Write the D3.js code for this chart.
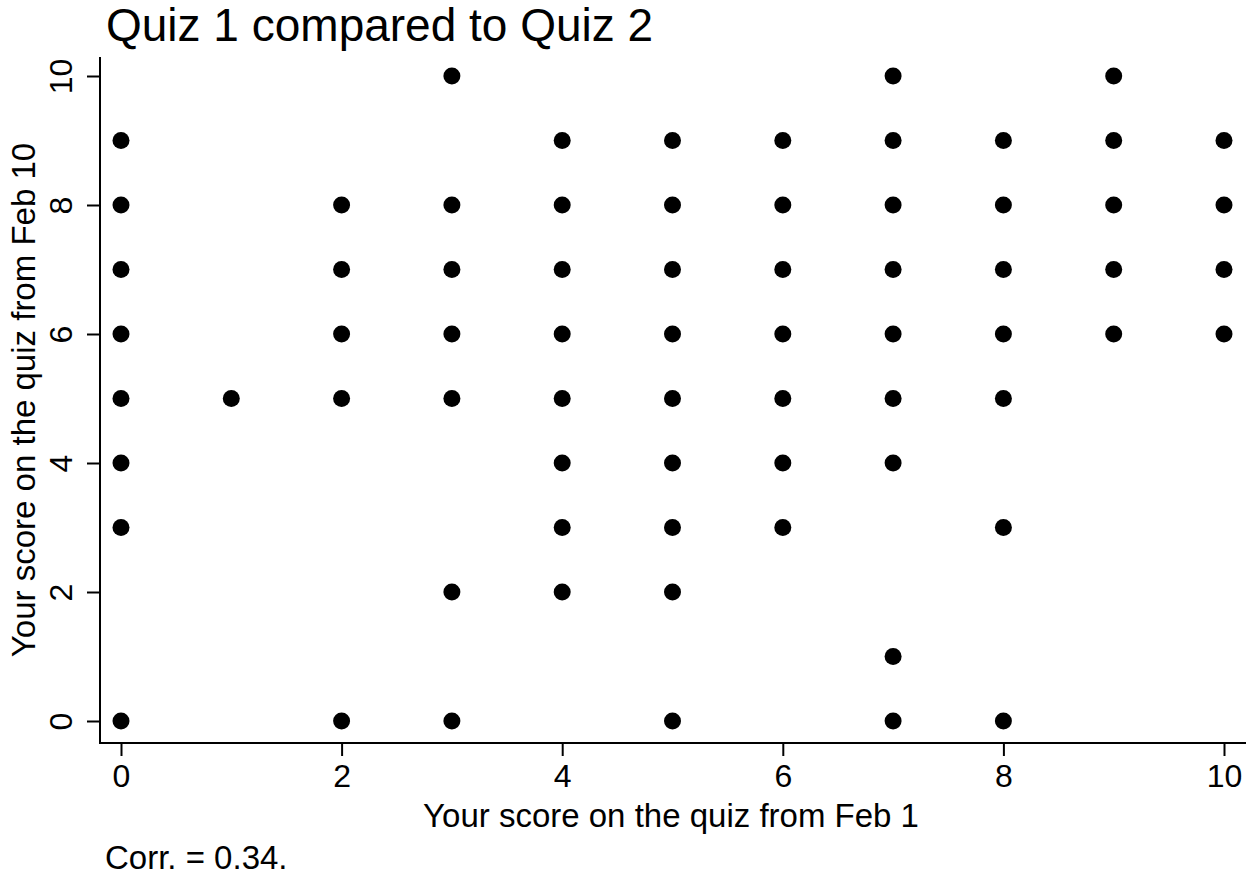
<!DOCTYPE html>
<html><head><meta charset="utf-8">
<script src="https://cdn.jsdelivr.net/npm/d3@7"></script>
<style>
html,body{margin:0;padding:0;background:#fff;}
svg{display:block;font-family:"Liberation Sans",Arial,sans-serif;}
</style></head>
<body>
<svg id="chart" width="1249" height="875"></svg>
<script>
const titleText = "Quiz 1 compared to Quiz 2";
const xTitle = "Your score on the quiz from Feb 1";
const yTitle = "Your score on the quiz from Feb 10";
const noteText = "Corr. = 0.34.";
const xTicks = [0, 2, 4, 6, 8, 10];
const yTicks = [0, 2, 4, 6, 8, 10];
const quiz1 = [0,0,0,0,0,0,0,0, 1, 2,2,2,2,2, 3,3,3,3,3,3,3, 4,4,4,4,4,4,4,4, 5,5,5,5,5,5,5,5,5, 6,6,6,6,6,6,6, 7,7,7,7,7,7,7,7,7, 8,8,8,8,8,8,8, 9,9,9,9,9, 10,10,10,10];
const quiz2 = [9,8,7,6,5,4,3,0, 5, 8,7,6,5,0, 10,8,7,6,5,2,0, 9,8,7,6,5,4,3,2, 9,8,7,6,5,4,3,2,0, 9,8,7,6,5,4,3, 10,9,8,7,6,5,4,1,0, 9,8,7,6,5,3,0, 10,9,8,7,6, 9,8,7,6];

const svg = d3.select("#chart");
const x = d3.scaleLinear().domain([0, 10]).range([121, 1224]);
const y = d3.scaleLinear().domain([0, 10]).range([721, 76]);
const plotLeft = 100, plotRight = 1246, plotTop = 57, plotBottom = 743;

// x axis
const xAxis = d3.axisBottom(x).tickValues(xTicks).tickSize(13).tickPadding(8).tickFormat(d3.format("d"));
const gx = svg.append("g").attr("transform", `translate(0,${plotBottom})`).call(xAxis);
gx.select(".domain").remove();
gx.selectAll(".tick line").attr("stroke", "#000").attr("stroke-width", 2);
gx.selectAll(".tick text").attr("font-size", 32).attr("fill", "#000").attr("font-family", "Liberation Sans, Arial, sans-serif").attr("dy", "0.71em");
svg.append("line").attr("x1", plotLeft - 1).attr("x2", plotRight).attr("y1", plotBottom).attr("y2", plotBottom).attr("stroke", "#000").attr("stroke-width", 2);

// y axis
const yAxis = d3.axisLeft(y).tickValues(yTicks).tickSize(13).tickPadding(0).tickFormat(d3.format("d"));
const gy = svg.append("g").attr("transform", `translate(${plotLeft},0)`).call(yAxis);
gy.select(".domain").remove();
gy.selectAll(".tick line").attr("stroke", "#000").attr("stroke-width", 2);
gy.selectAll(".tick text")
  .attr("font-size", 32).attr("fill", "#000").attr("font-family", "Liberation Sans, Arial, sans-serif")
  .attr("x", null).attr("dy", null)
  .attr("text-anchor", "middle")
  .attr("transform", "translate(-28,0) rotate(-90)");
svg.append("line").attr("x1", plotLeft).attr("x2", plotLeft).attr("y1", plotTop).attr("y2", plotBottom + 1).attr("stroke", "#000").attr("stroke-width", 2);

// points
svg.append("g").selectAll("circle")
  .data(quiz1.map((v, i) => [v, quiz2[i]]))
  .join("circle")
  .attr("cx", d => x(d[0]))
  .attr("cy", d => y(d[1]))
  .attr("r", 8.5)
  .attr("fill", "#000");

// titles
svg.append("text").attr("x", 106).attr("y", 41).attr("font-size", 46).attr("fill", "#000").text(titleText);
svg.append("text").attr("x", 671).attr("y", 827).attr("text-anchor", "middle").attr("font-size", 33).attr("fill", "#000").text(xTitle);
svg.append("text").attr("transform", `translate(35,400) rotate(-90)`).attr("text-anchor", "middle").attr("font-size", 33).attr("fill", "#000").text(yTitle);
svg.append("text").attr("x", 105).attr("y", 869).attr("font-size", 33).attr("fill", "#000").text(noteText);
</script>
</body></html>
